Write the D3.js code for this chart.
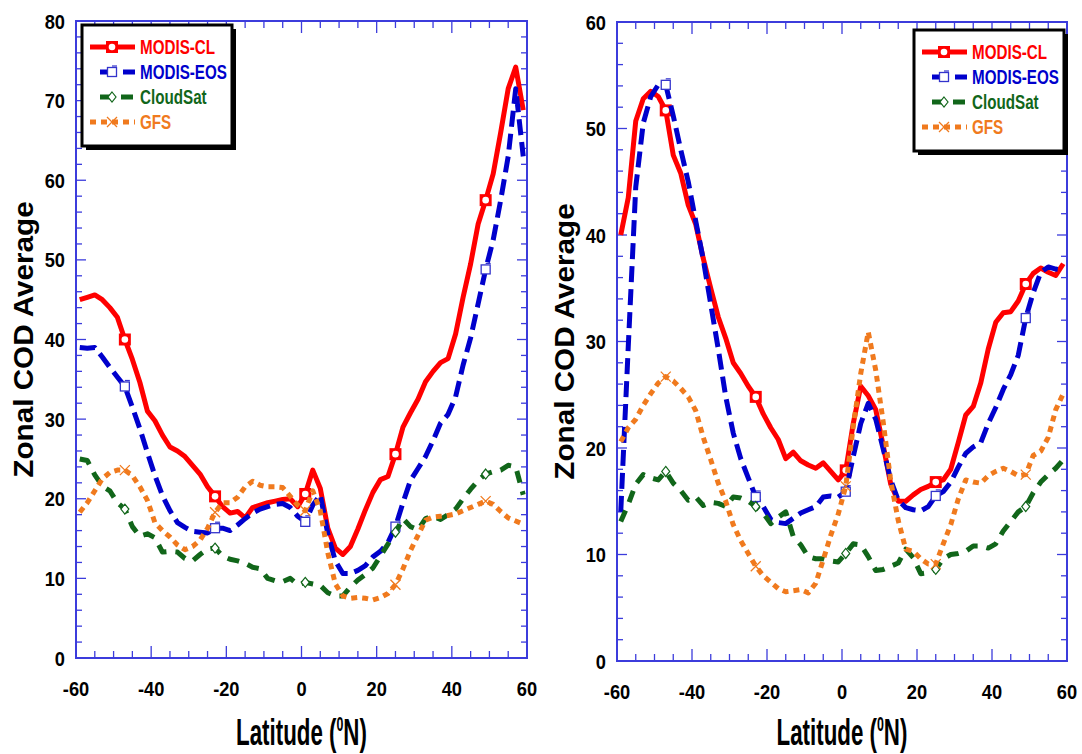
<!DOCTYPE html>
<html lang="en">
<head>
<meta charset="UTF-8">
<title>Zonal COD Average</title>
<style>
  body{margin:0;background:#fff;font-family:"Liberation Sans",Arial,Helvetica,sans-serif;}
  svg{display:block;}
  .tick-label{font-size:21px;font-weight:bold;fill:#000;}
  .axis-title{font-weight:bold;fill:#000;}
  .legend-label{font-size:20px;font-weight:bold;}
</style>
<script src="https://d3js.org/d3.v7.min.js"></script>
</head>
<body>
<script>
// latitude of every zonal band (deg N)
var lat = [-59,-57,-55,-53,-51,-49,-47,-45,-43,-41,-39,-37,-35,-33,-31,-29,-27,-25,-23,-21,
           -19,-17,-15,-13,-11,-9,-7,-5,-3,-1,1,3,5,7,9,11,13,15,17,19,
           21,23,25,27,29,31,33,35,37,39,41,43,45,47,49,51,53,55,57,59];

// left panel
var leftCL  = [45.0,45.3,45.6,45.0,44.0,42.8,40.0,37.5,34.6,31.0, 29.8,28.0,26.5,26.0,25.3,24.2,23.1,21.5,20.3,19.0,
               18.2,18.4,17.6,18.9,19.2,19.5,19.7,19.9,20.0,19.0, 20.6,23.6,21.3,16.3,13.8,13.0,14.0,16.2,18.6,20.8,
               22.4,22.8,25.6,29.0,30.8,32.5,34.7,36.0,37.1,37.6, 40.7,45.3,49.5,54.5,57.5,60.8,66.0,71.5,74.2,68.8];
var leftEOS = [39.0,38.9,39.0,37.8,36.5,35.3,34.1,31.5,28.8,25.8, 22.9,20.4,18.5,17.0,16.4,15.9,15.8,15.7,16.3,16.3,
               16.0,16.7,17.5,18.2,18.7,19.0,19.3,19.4,18.9,17.8, 17.1,19.2,20.5,15.6,12.2,10.6,10.6,11.0,11.6,12.7,
               13.4,14.5,16.5,19.5,22.3,23.8,25.3,27.3,29.5,30.6, 32.8,36.8,40.2,44.5,48.8,52.5,57.5,63.0,71.5,63.0];
var leftCS  = [25.0,24.8,23.0,21.6,21.0,19.5,18.7,16.5,15.3,15.6, 15.1,13.3,13.4,13.3,12.5,12.2,13.0,13.7,13.8,12.8,
               12.4,12.2,11.9,11.4,11.2,10.0,9.7,9.6,10.0,9.2, 9.5,9.3,9.1,8.2,7.8,7.8,8.9,9.8,10.5,11.3,
               12.8,14.3,15.8,17.5,16.5,16.1,17.5,17.8,17.4,18.0, 18.7,20.0,21.2,22.3,23.1,23.4,23.6,24.2,24.0,20.5];
var leftGFS = [18.3,19.5,21.0,22.5,23.3,23.6,23.6,22.9,21.5,19.8, 17.0,16.0,15.2,14.2,13.6,14.0,14.8,16.3,18.3,19.5,
               19.5,20.2,21.5,22.2,21.7,21.5,21.5,21.4,20.3,19.2, 18.5,21.0,18.5,13.2,9.3,7.8,7.5,7.6,7.5,7.3,
               7.6,8.1,9.2,11.2,13.5,15.4,17.3,17.7,17.8,17.9, 18.1,18.5,18.9,19.3,19.7,19.3,18.4,17.6,17.2,16.8];

// right panel
var rightCL  = [40.0,43.5,50.7,52.8,53.5,53.0,51.7,47.5,45.8,42.8, 41.0,37.8,35.0,32.3,30.3,28.0,27.0,25.8,24.8,23.2,
                21.9,20.8,19.0,19.6,18.8,18.4,18.1,18.6,17.8,17.0, 17.9,22.3,25.8,24.9,23.6,20.2,16.6,15.0,15.0,15.6,
                16.1,16.4,16.8,17.0,18.0,20.5,23.1,23.9,26.1,29.3, 31.8,32.7,32.8,33.8,35.4,36.4,36.9,36.5,36.2,37.3];
var rightEOS = [14.0,29.5,44.5,50.5,53.0,54.1,54.1,51.2,48.0,45.0, 41.3,37.7,33.5,29.3,24.8,21.4,19.0,17.2,15.4,14.5,
                13.3,13.0,12.9,13.4,13.9,14.2,14.5,15.4,15.5,15.4, 15.9,19.2,22.3,24.2,22.7,19.9,17.0,15.1,14.4,14.2,
                14.1,14.5,15.5,15.9,16.8,18.2,19.5,20.1,20.5,22.3, 23.8,25.5,26.9,28.7,32.2,34.6,36.5,37.0,36.8,36.7];
var rightCS  = [13.1,14.7,16.6,17.5,17.2,17.0,17.8,16.7,16.0,15.1, 15.4,14.6,14.9,14.8,14.5,15.4,15.3,15.0,14.5,13.9,
                12.9,13.5,14.0,11.7,10.9,9.8,9.6,9.6,9.4,9.3, 10.1,11.0,10.9,9.8,8.5,8.6,8.9,9.2,10.5,9.7,
                8.2,8.3,8.6,9.6,10.0,10.1,10.3,10.8,10.8,10.6, 11.0,12.2,13.1,14.0,14.5,15.8,16.8,17.5,18.1,18.9];
var rightGFS = [20.6,21.9,22.7,24.0,25.1,26.1,26.7,26.3,25.6,24.8, 23.5,21.0,18.9,16.7,15.0,12.8,11.3,10.1,8.9,8.0,
                7.4,6.8,6.5,6.6,6.7,6.4,7.3,9.5,11.8,13.8, 16.4,22.0,27.0,30.9,27.3,22.4,16.9,13.2,10.5,10.3,
                9.6,9.1,9.1,11.0,12.8,15.2,17.0,16.8,16.7,17.4, 17.8,18.1,17.8,17.4,17.5,19.3,19.7,21.0,23.6,25.1];

var seriesNames = ["MODIS-CL", "MODIS-EOS", "CloudSat", "GFS"];
var seriesColors = ["#ff0000", "#0000cc", "#11661a", "#f07a1e"];
var seriesDash = [null, "16,7", "12,9", "6,5"];
var markerIdx = [6, 18, 30, 42, 54];

var xTicks = [-60, -40, -20, 0, 20, 40, 60];
var leftYTicks = [0, 10, 20, 30, 40, 50, 60, 70, 80];
var rightYTicks = [0, 10, 20, 30, 40, 50, 60];

var axisColor = "#3c3cdc";

var svg = d3.select("body").append("svg")
    .attr("width", 1082)
    .attr("height", 754);

function squeeze(sel, x, y, k){
    sel.attr("transform", "translate(" + x + "," + y + ") scale(" + k + ",1)");
}

function drawMarker(g, kind, cx, cy){
    if(kind == 0){
        g.append("rect").attr("x", cx-6).attr("y", cy-6).attr("width", 12).attr("height", 12)
            .attr("fill", "#ff0000");
        g.append("circle").attr("cx", cx).attr("cy", cy).attr("r", 3.3).attr("fill", "#fff");
    } else if(kind == 1){
        g.append("rect").attr("x", cx-4.5).attr("y", cy-4.5).attr("width", 9).attr("height", 9)
            .attr("fill", "#fff").attr("stroke", "#3333cc").attr("stroke-width", 1.3);
        g.append("line").attr("x1", cx).attr("x2", cx+5).attr("y1", cy-6).attr("y2", cy-6)
            .attr("stroke", "#3333cc").attr("stroke-width", 1.2);
    } else if(kind == 2){
        g.append("path").attr("d", "M" + cx + "," + (cy-5) + "L" + (cx+4) + "," + cy + "L" + cx + "," + (cy+5) + "L" + (cx-4) + "," + cy + "Z")
            .attr("fill", "#fff").attr("stroke", "#11661a").attr("stroke-width", 1.2);
    } else {
        g.append("path").attr("d", "M" + (cx-5) + "," + (cy-5) + "L" + (cx+5) + "," + (cy+5) + "M" + (cx+5) + "," + (cy-5) + "L" + (cx-5) + "," + (cy+5))
            .attr("stroke", "#f07a1e").attr("stroke-width", 1.3).attr("fill", "none");
    }
}

function drawPanel(p){
    var x = d3.scaleLinear().domain([-60, 60]).range([p.x0, p.x1]);
    var y = d3.scaleLinear().domain([0, p.ymax]).range([p.y0, p.y1]);
    var g = svg.append("g");

    // frame and inward ticks on all four sides
    var ax = g.append("g").attr("stroke", axisColor);
    ax.append("rect").attr("x", p.x0).attr("y", p.y1)
        .attr("width", p.x1 - p.x0).attr("height", p.y0 - p.y1)
        .attr("fill", "none").attr("stroke-width", 2);
    d3.range(-60, 61, 5).forEach(function(v){
        var len = v % 20 == 0 ? 12 : 7;
        ax.append("line").attr("x1", x(v)).attr("x2", x(v)).attr("y1", p.y0).attr("y2", p.y0 - len).attr("stroke-width", 1.3);
        ax.append("line").attr("x1", x(v)).attr("x2", x(v)).attr("y1", p.y1).attr("y2", p.y1 + len).attr("stroke-width", 1.3);
    });
    d3.range(0, p.ymax + 1, 2).forEach(function(v){
        var len = v % 10 == 0 ? 10 : 6;
        ax.append("line").attr("x1", p.x0).attr("x2", p.x0 + len).attr("y1", y(v)).attr("y2", y(v)).attr("stroke-width", 1.3);
        ax.append("line").attr("x1", p.x1).attr("x2", p.x1 - len).attr("y1", y(v)).attr("y2", y(v)).attr("stroke-width", 1.3);
    });

    // tick labels
    xTicks.forEach(function(v){
        var t = g.append("text").attr("class", "tick-label").attr("text-anchor", "middle").text(v);
        squeeze(t, x(v), p.y0 + 38, 0.87);
    });
    p.yTicks.forEach(function(v){
        var t = g.append("text").attr("class", "tick-label").attr("text-anchor", "end").attr("dy", "0.36em").text(v);
        squeeze(t, p.x0 - 11, y(v), 0.87);
    });

    // axis titles
    var xt = g.append("text").attr("class", "axis-title").attr("text-anchor", "middle").style("font-size", "36px");
    xt.append("tspan").text("Latitude (");
    xt.append("tspan").attr("dy", -14).style("font-size", "20px").text("0");
    xt.append("tspan").attr("dy", 14).text("N)");
    squeeze(xt, (p.x0 + p.x1) / 2, 745, 0.62);

    g.append("text").attr("class", "axis-title").attr("text-anchor", "middle").style("font-size", "28px")
        .attr("transform", "translate(" + p.titleX + "," + ((p.y0 + p.y1) / 2) + ") rotate(-90) scale(1.06,1)")
        .text("Zonal COD Average");

    // series
    var line = d3.line().x(function(d){ return x(d[0]); }).y(function(d){ return y(d[1]); });
    p.series.forEach(function(vals, i){
        var pts = lat.map(function(l, j){ return [l, vals[j]]; });
        g.append("path").datum(pts)
            .attr("d", line)
            .attr("fill", "none")
            .attr("stroke", seriesColors[i])
            .attr("stroke-width", 5)
            .attr("stroke-linejoin", "round")
            .attr("stroke-dasharray", seriesDash[i]);
        var mg = g.append("g");
        markerIdx.forEach(function(j){ drawMarker(mg, i, x(lat[j]), y(vals[j])); });
    });

    // legend
    var lg = g.append("g").attr("transform", "translate(" + p.legX + "," + p.legY + ")");
    lg.append("rect").attr("x", 4).attr("y", 4).attr("width", 150).attr("height", 121).attr("fill", "#000");
    lg.append("rect").attr("x", 0).attr("y", 0).attr("width", 150).attr("height", 121)
        .attr("fill", "#fff").attr("stroke", "#000").attr("stroke-width", 3);
    seriesNames.forEach(function(name, i){
        var ry = 22 + i * 25;
        var xs = (i == 0 || i == 3) ? 8 : 18;
        lg.append("line").attr("x1", xs).attr("x2", 53).attr("y1", ry).attr("y2", ry)
            .attr("stroke", seriesColors[i]).attr("stroke-width", 5)
            .attr("stroke-dasharray", seriesDash[i]);
        drawMarker(lg, i, 30, ry);
        var t = lg.append("text").attr("class", "legend-label").attr("fill", seriesColors[i])
            .attr("dy", "0.36em").text(name);
        squeeze(t, 58, ry, 0.76);
    });
}

drawPanel({x0: 76, x1: 527, y0: 658, y1: 21, ymax: 80, yTicks: leftYTicks, titleX: 33,
           legX: 82, legY: 25, series: [leftCL, leftEOS, leftCS, leftGFS]});
drawPanel({x0: 617, x1: 1067, y0: 661, y1: 22, ymax: 60, yTicks: rightYTicks, titleX: 574,
           legX: 914, legY: 30, series: [rightCL, rightEOS, rightCS, rightGFS]});
</script>
</body>
</html>
